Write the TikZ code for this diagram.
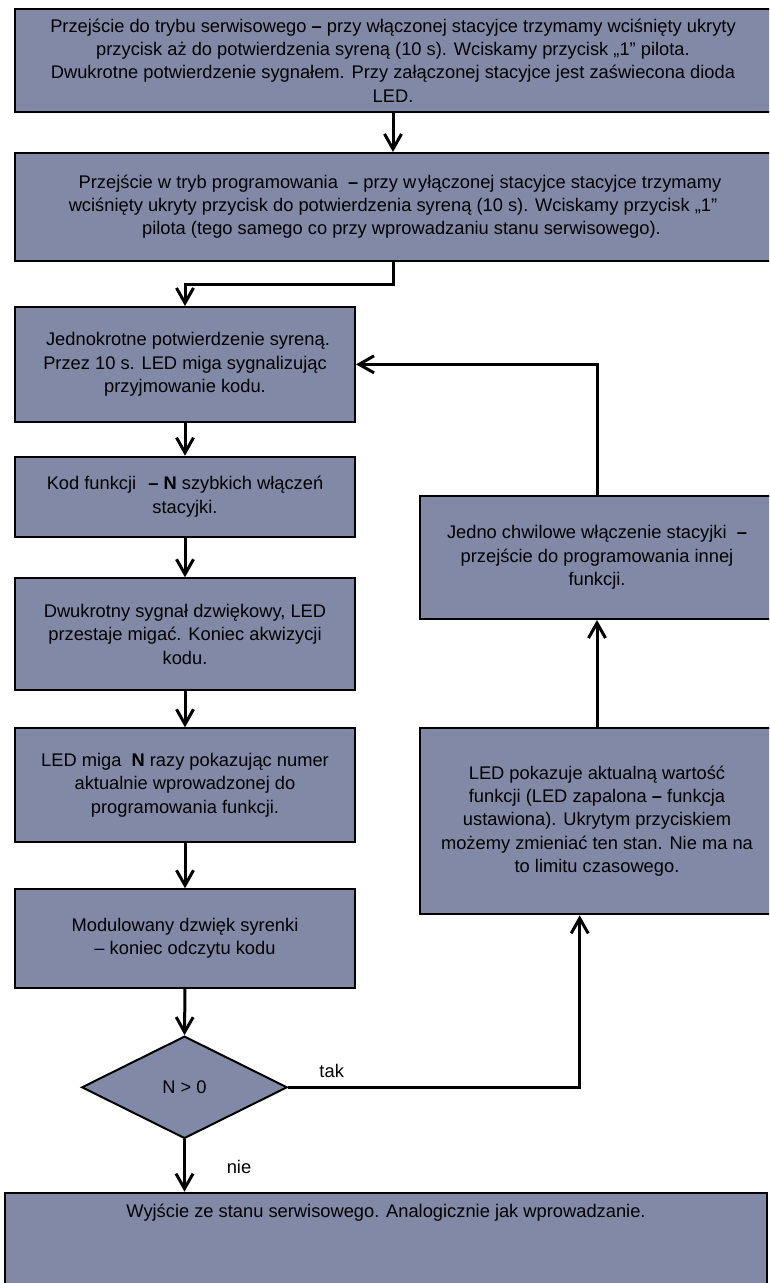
\documentclass[tikz,border=0pt]{standalone}
\usepackage{fontspec}
\setmainfont{Liberation Sans}
\usetikzlibrary{arrows.meta,shapes.geometric}
\definecolor{boxfill}{RGB}{130,137,166}
\begin{document}
\begin{tikzpicture}[x=1pt,y=-1pt,
  font=\fontsize{18.3}{23.3}\selectfont,
  box/.style={draw=black, line width=2pt, fill=boxfill, rectangle, align=center, inner sep=0pt},
  colbox/.style={box, minimum width=340pt},
  rbox/.style={box, minimum width=354pt},
  flow/.style={line width=3pt, -{Straight Barb[length=15pt,width=17pt]}},
  lbl/.style={inner sep=0pt}]
\useasboundingbox (0,0) rectangle (769,1283);
\clip (0,0) rectangle (769,1283);

\node[box, minimum width=756pt, minimum height=102.4pt] (b1) at (393,60.5)
 {Przejście do trybu serwisowego \textbf{–} przy włączonej stacyjce trzymamy wciśnięty ukryty\\
  przycisk aż do potwierdzenia syreną (10 s). Wciskamy przycisk „1” pilota.\hspace*{36pt}\\
  Dwukrotne potwierdzenie sygnałem. Przy załączonej stacyjce jest zaświecona dioda\\
  LED.};

\node[box, minimum width=756pt, minimum height=107.7pt] (b2) at (393,206.85)
 {\hspace*{14pt}Przejście w tryb programowania\hspace{5pt} \textbf{–} przy w\hspace{2pt}yłączonej stacyjce stacyjce trzymamy\\
  wciśnięty ukryty przycisk do potwierdzenia syreną (10 s). Wciskamy przycisk „1”\hspace*{26pt}\\
  \hspace*{17pt}pilota (tego samego co przy wprowadzaniu stanu serwisowego).};

\node[colbox, minimum height=114.7pt] (b3) at (185,364.35)
 {\hspace*{6pt}Jednokrotne potwierdzenie syreną.\\
  Przez 10 s. LED miga sygnalizując\hspace*{18pt}\\
  przyjmowanie kodu.};

\node[colbox, minimum height=80pt] (b4) at (185,496.7)
 {Kod funkcji\hspace{12pt}\textbf{– N} szybkich włączeń\\ stacyjki.};

\node[colbox, minimum height=111.7pt] (b5) at (185,634.15)
 {Dwukrotny sygnał dzwiękowy, LED\\
  przestaje migać. Koniec akwizycji\\
  kodu.};

\node[colbox, minimum height=113.4pt] (b6) at (185,785)
 {LED miga\hspace{5pt} \textbf{N} razy pokazując numer\\
  aktualnie wprowadzonej do\\
  programowania funkcji.};

\node[colbox, minimum height=98.4pt] (b7) at (185,938.5)
 {Modulowany dzwięk syrenki\\
  – koniec odczytu kodu};

\node[draw=black, line width=2pt, fill=boxfill, diamond, aspect=2,
      minimum width=205.6pt, minimum height=102.3pt, inner sep=0pt] (d) at (184.5,1087.3) {N > 0};

\node[box, minimum width=762pt, minimum height=103pt, anchor=north] (b8) at (386,1191.7) {};
\node[lbl] (b8t) at (386,1213) {Wyjście ze stanu serwisowego. Analogicznie jak wprowadzanie.};

\node[rbox, minimum height=123pt] (r1) at (597,557.5)
 {Jedno chwilowe włączenie stacyjki\hspace{5pt} \textbf{–}\\
  przejście do programowania innej\\
  funkcji.};

\node[rbox, minimum height=186.6pt] (r2) at (597,821)
 {LED pokazuje aktualną wartość\\
  funkcji (LED zapalona \textbf{–} funkcja\\
  ustawiona). Ukrytym przyciskiem\\
  możemy zmieniać ten stan. Nie ma na\\
  to limitu czasowego.};

\node[lbl] (tak) at (331.7,1070.7) {tak};
\node[lbl] (nie) at (239,1166.7) {nie};

\draw[flow] (b1.south) -- (b2.north);
\draw[flow] (b2.south) -- ++(0,22.3) -| (b3.north);
\draw[flow] (b3.south) -- (b4.north);
\draw[flow] (b4.south) -- (b5.north);
\draw[flow] (b5.south) -- (b6.north);
\draw[flow] (b6.south) -- (b7.north);
\draw[flow] (b7.south) -- (d.north);
\draw[flow] (d.south) -- (d.south |- b8.north);
\draw[flow] (d.east) -| ([xshift=-17.3pt]r2.south);
\draw[flow] (r2.north) -- (r1.south);
\draw[flow] (r1.north) |- (b3.east);
\end{tikzpicture}
\end{document}
